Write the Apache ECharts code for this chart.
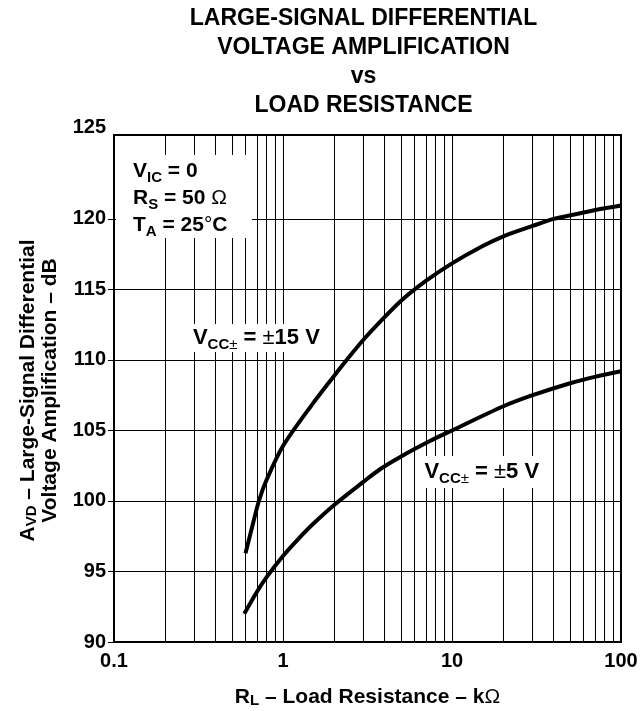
<!DOCTYPE html>
<html><head><meta charset="utf-8">
<script src="https://cdn.jsdelivr.net/npm/echarts@6/dist/echarts.min.js"></script>
<style>html,body{margin:0;padding:0;background:#fff}#c{width:643px;height:711px}</style>
</head><body><div id="c"></div>
<script>
// ---- data ----
const xTickLabels = [0.1, 1, 10, 100];
const yTickLabels = [90, 95, 100, 105, 110, 115, 120, 125];
const yGridLines = [95, 100, 105, 110, 115, 120];
const yTop = 125.95;   // top frame of the plot (labelled 125)
const minorGridX = [0.2,0.3,0.4,0.5,0.6,0.7,0.8,0.9, 2,3,4,5,6,7,8,9, 20,30,40,50,60,70,80,90];
// VCC± = ±15 V
const rl15 = [0.6, 0.65, 0.72, 0.8, 1.0, 1.5, 2.0, 2.4, 3.0, 3.75, 5, 7, 10, 15, 20, 30, 40, 60, 80, 100];
const av15 = [96.3, 97.95, 100.0, 101.5, 103.9, 106.9, 108.85, 110.05, 111.45, 112.7, 114.2, 115.6, 116.85, 118.05, 118.75, 119.5, 120.0, 120.45, 120.75, 120.95];
// VCC± = ±5 V
const rl5 = [0.59, 0.7, 0.8, 1.0, 1.23, 1.5, 2.0, 3.0, 3.75, 5, 7.4, 10, 20, 30, 50, 70, 100];
const av5 = [92.0, 93.55, 94.6, 96.1, 97.3, 98.35, 99.7, 101.37, 102.25, 103.16, 104.25, 105.0, 106.7, 107.5, 108.35, 108.8, 109.2];

const FF = '"Liberation Sans", Arial, Helvetica, sans-serif';
const chart = echarts.init(document.getElementById('c'), null, {renderer: 'canvas'});

const pairs = (xs, ys) => xs.map((x, i) => [x, ys[i]]);
const GL = 114, GR = 22, GT = 135, GB = 69;

const option = {
  animation: false,
  backgroundColor: '#fff',
  grid: {left: GL, right: GR, top: GT, bottom: GB, show: true, borderColor: '#000', borderWidth: 2, backgroundColor: 'transparent', z: 10},
  xAxis: {
    type: 'log', logBase: 10, min: 0.1, max: 100,
    axisLine: {show: false},
    axisTick: {show: false},
    splitLine: {show: true, lineStyle: {color: '#000', width: 1}},
    axisLabel: {color: '#000', fontFamily: FF, fontWeight: 'bold', fontSize: 20, margin: 9,
      formatter: v => { const f = xTickLabels.find(t => Math.abs(t - v) / t < 1e-6); return f !== undefined ? String(f) : ''; }}
  },
  yAxis: {
    type: 'value', min: 90, max: yTop, interval: 5,
    axisLine: {show: false},
    axisTick: {show: true, inside: false, length: 6, lineStyle: {color: '#000', width: 1}, customValues: yGridLines.concat([90])},
    splitLine: {show: false},
    axisLabel: {color: '#000', fontFamily: FF, fontWeight: 'bold', fontSize: 20, margin: 8,
      customValues: yTickLabels.slice(0, 7).concat([yTop]),
      formatter: v => v === yTop ? '{t|125}' : (yTickLabels.includes(v) ? String(v) : ''),
      rich: {t: {fontFamily: FF, fontWeight: 'bold', fontSize: 20, color: '#000', padding: [0, 0, 16, 0]}}}
  },
  series: [
    {
      type: 'line', data: [], silent: true,
      markLine: {
        silent: true, symbol: 'none', label: {show: false}, animation: false,
        lineStyle: {color: '#000', width: 1, type: 'solid'},
        data: minorGridX.map(v => ({xAxis: v})).concat(yGridLines.map(v => ({yAxis: v})))
      },
      z: 1
    },
    {
      name: '±15 V', type: 'line', data: pairs(rl15, av15), smooth: 0.3, showSymbol: false,
      lineStyle: {color: '#000', width: 4}, z: 5
    },
    {
      name: '±5 V', type: 'line', data: pairs(rl5, av5), smooth: 0.3, showSymbol: false,
      lineStyle: {color: '#000', width: 4}, z: 5
    }
  ]
};
chart.setOption(option);

const P = (x, y) => chart.convertToPixel({xAxisIndex: 0, yAxisIndex: 0}, [x, y]);
const mkRich = (fs, sfs, lh) => ({
  b: {fontFamily: FF, fontWeight: 'bold', fontSize: fs, color: '#000', lineHeight: lh},
  n: {fontFamily: FF, fontWeight: 'normal', fontSize: fs, color: '#000', lineHeight: lh},
  s: {fontFamily: FF, fontWeight: 'bold', fontSize: sfs, color: '#000', lineHeight: sfs, verticalAlign: 'bottom'},
  sn: {fontFamily: FF, fontWeight: 'normal', fontSize: sfs, color: '#000', lineHeight: sfs, verticalAlign: 'bottom'}
});
const condRich = mkRich(21, 15, 27);
const curveRich = mkRich(22, 15, 28);
const axRich = mkRich(21, 15, 22);

const tl = P(0.1, yTop);
const c15 = P(0.715, 111.55);
const c5 = P(15, 102.05);
const midX = (GL + (643 - GR)) / 2;
const midY = (GT + (711 - GB)) / 2;

chart.setOption({
  graphic: [
    {type: 'rect', z: 20, shape: {x: tl[0] + 2, y: tl[1] + 20, width: 136, height: 83}, style: {fill: '#fff'}},
    {type: 'text', z: 21, x: tl[0] + 19, y: tl[1] + 23, style: {
      text: '{b|V}{s|IC}{b| = 0}\n{b|R}{s|S}{b| = 50 }{n|Ω}\n{b|T}{s|A}{b| = 25}{n|°}{b|C}', rich: condRich}},
    {type: 'text', z: 21, x: c15[0], y: c15[1], style: {
      text: '{b|V}{s|CC}{sn|±}{b| = }{n|±}{b|15 V}', rich: curveRich, align: 'center', verticalAlign: 'middle',
      backgroundColor: '#fff', padding: [0, 8, 0, 4]}},
    {type: 'text', z: 21, x: c5[0], y: c5[1], style: {
      text: '{b|V}{s|CC}{sn|±}{b| = }{n|±}{b|5 V}', rich: curveRich, align: 'center', verticalAlign: 'middle',
      backgroundColor: '#fff', padding: [2, 8, 2, 8]}},
    {type: 'text', z: 21, x: midX - 4, y: 4, style: {
      text: 'LARGE-SIGNAL DIFFERENTIAL\nVOLTAGE AMPLIFICATION\nvs\nLOAD RESISTANCE',
      font: 'bold 23px ' + FF, fill: '#000', align: 'center', verticalAlign: 'top', lineHeight: 29}},
    {type: 'text', z: 21, x: midX, y: 697, style: {
      text: '{b|R}{s|L}{b| – Load Resistance – k}{n|Ω}', rich: axRich, align: 'center', verticalAlign: 'middle'}},
    {type: 'text', z: 21, x: 39, y: midY + 2, rotation: Math.PI / 2, style: {
      text: '{b|A}{s|VD}{b| – Large-Signal Differential}\n{b|Voltage Amplification – dB}', rich: axRich, align: 'center', verticalAlign: 'middle'}}
  ]
});
</script></body></html>
